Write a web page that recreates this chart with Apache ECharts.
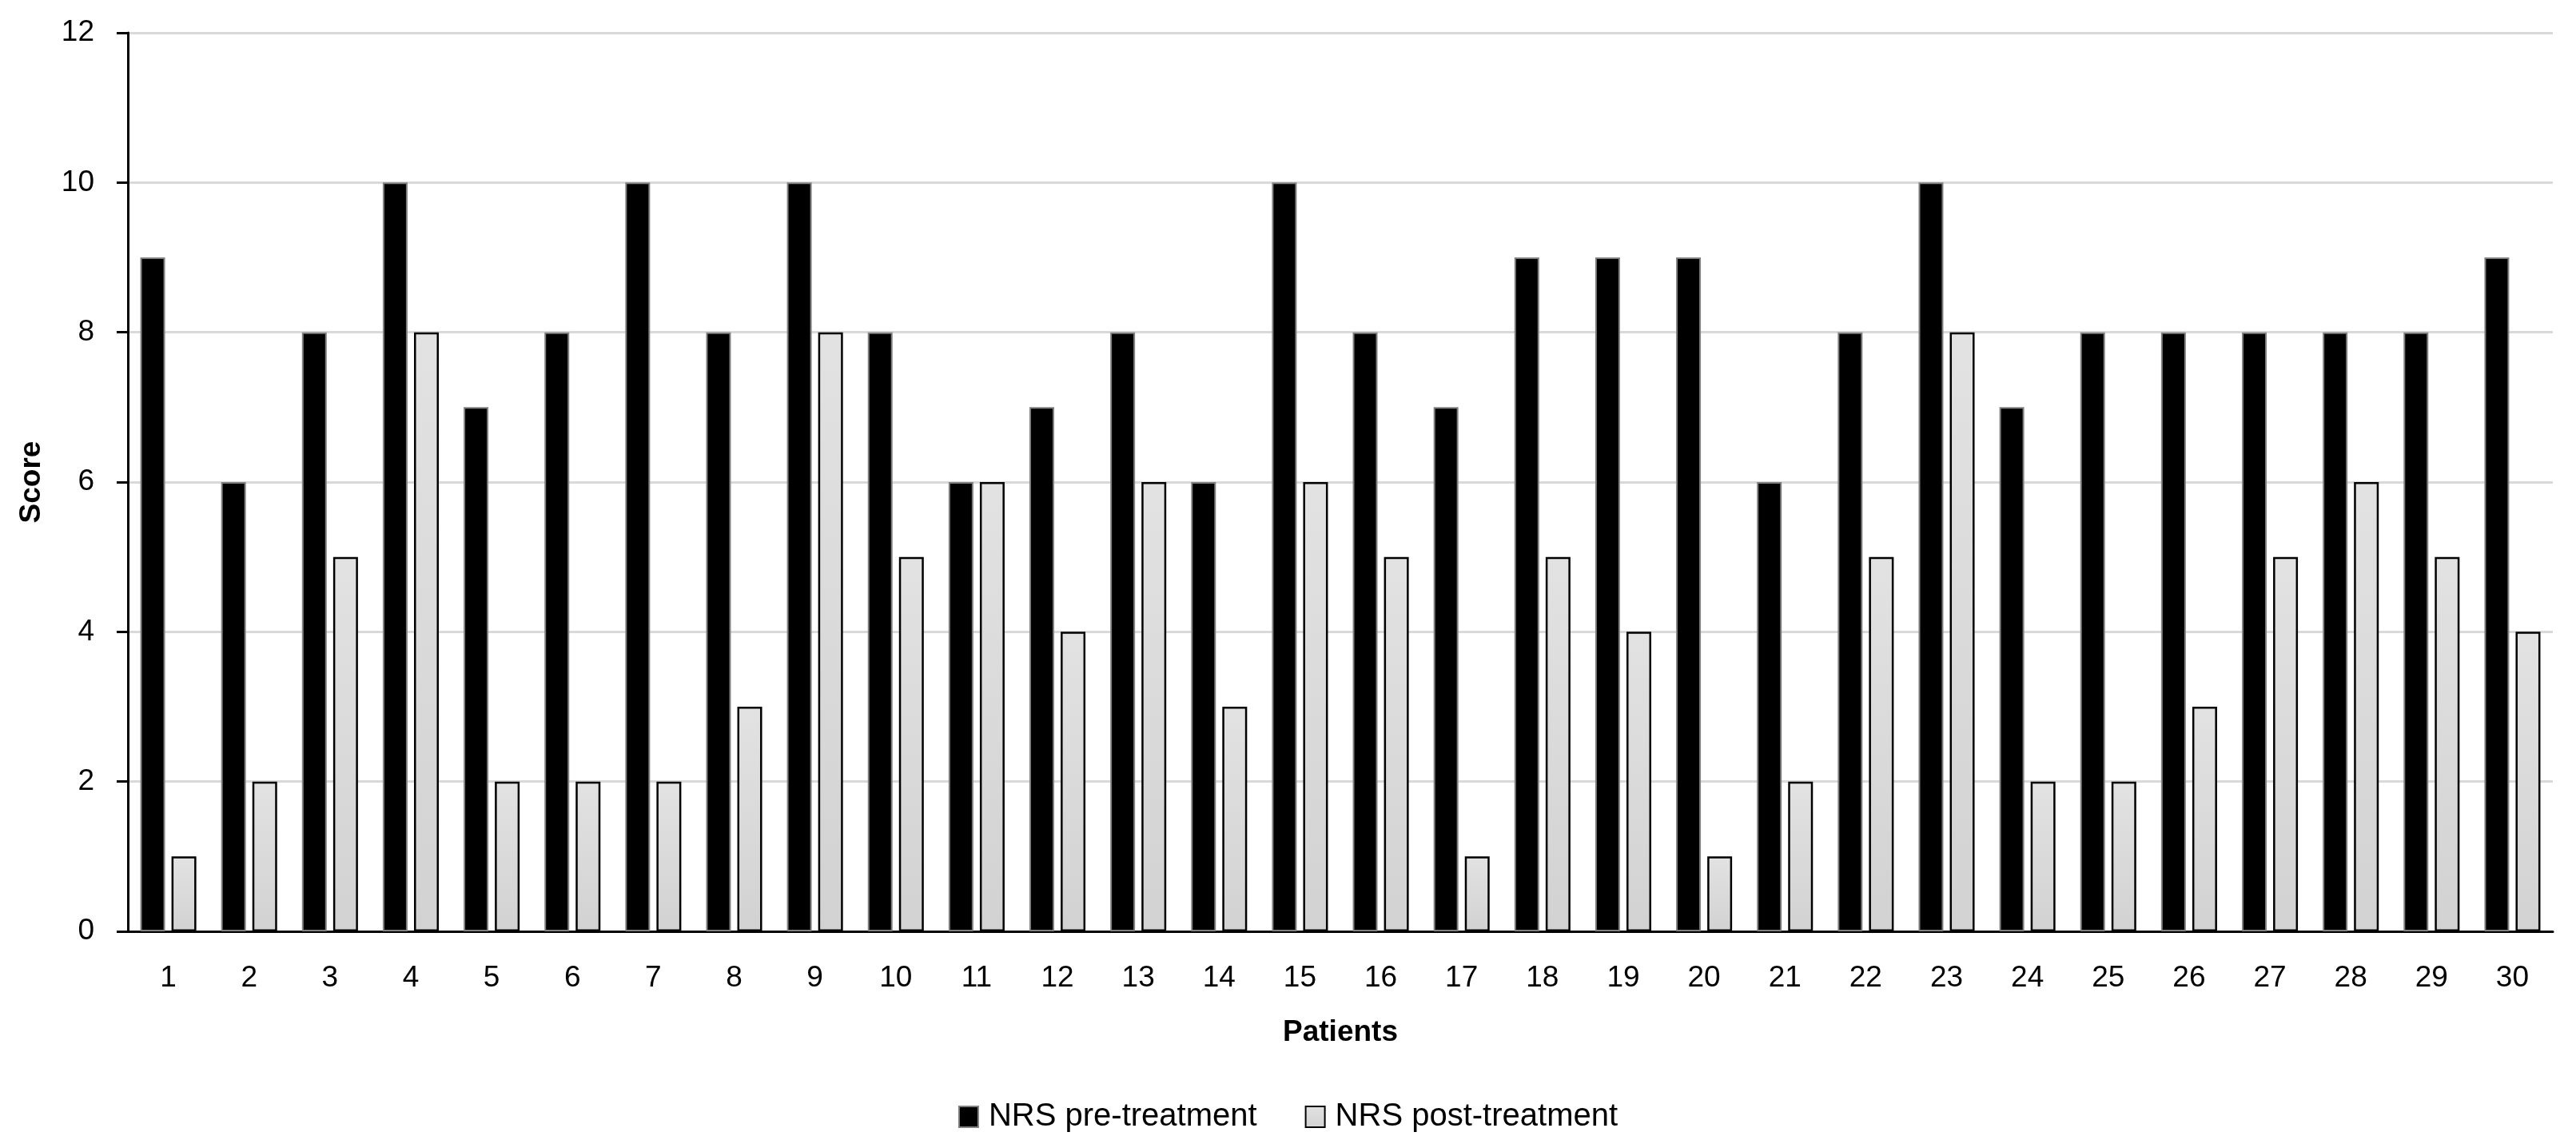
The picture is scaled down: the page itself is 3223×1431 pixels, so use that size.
<!DOCTYPE html>
<html>
<head>
<meta charset="utf-8">
<script src="https://cdn.jsdelivr.net/npm/echarts@6/dist/echarts.min.js"></script>
<style>html,body{margin:0;padding:0;background:#fff;}#c{width:3223px;height:1431px;}</style>
</head>
<body>
<div id="c"></div>
<script>
const patients = ['1','2','3','4','5','6','7','8','9','10','11','12','13','14','15','16','17','18','19','20','21','22','23','24','25','26','27','28','29','30'];
const nrsPre  = [9,6,8,10,7,8,10,8,10,8,6,7,8,6,10,8,7,9,9,9,6,8,10,7,8,8,8,8,8,9];
const nrsPost = [1,2,5,8,2,2,2,3,8,5,6,4,6,3,6,5,1,5,4,1,2,5,8,2,2,3,5,6,5,4];
const seriesNames = ['NRS pre-treatment','NRS post-treatment'];

const FONT = '"Liberation Sans", Arial, sans-serif';
const chart = echarts.init(document.getElementById('c'), null, {renderer:'canvas'});
chart.setOption({
  animation:false,
  backgroundColor:'#fff',
  grid:{left:160,right:29,top:41,bottom:266,containLabel:false},
  legend:{
    data:seriesNames, left:'center', top:1372, icon:'rect',
    itemWidth:24, itemHeight:26, itemGap:60,
    textStyle:{fontFamily:FONT,fontSize:40,color:'#000',padding:[0,0,0,8]}
  },
  xAxis:{
    type:'category', data:patients,
    name:'Patients', nameLocation:'middle', nameGap:108,
    nameTextStyle:{fontFamily:FONT,fontSize:37,fontWeight:'bold',color:'#000'},
    axisLine:{lineStyle:{color:'#000',width:3}},
    axisTick:{show:false},
    axisLabel:{fontFamily:FONT,fontSize:37,color:'#000',margin:40,interval:0}
  },
  yAxis:{
    type:'value', min:0, max:12, interval:2,
    name:'Score', nameLocation:'middle', nameGap:102,
    nameTextStyle:{fontFamily:FONT,fontSize:37,fontWeight:'bold',color:'#000'},
    axisLine:{show:true,lineStyle:{color:'#000',width:3}},
    axisTick:{show:true,length:14,lineStyle:{color:'#000',width:3}},
    axisLabel:{fontFamily:FONT,fontSize:37,color:'#000',margin:42},
    splitLine:{lineStyle:{color:'#d9d9d9',width:3}}
  },
  series:[
    {name:seriesNames[0], type:'bar', data:nrsPre, barWidth:31, barGap:'26%',
     itemStyle:{color:'#000',borderColor:'#808080',borderWidth:2}},
    {name:seriesNames[1], type:'bar', data:nrsPost, barWidth:31,
     itemStyle:{color:new echarts.graphic.LinearGradient(0,0,0,1,[{offset:0,color:'#e2e2e2'},{offset:1,color:'#d2d2d2'}]),borderColor:'#000',borderWidth:2.5}}
  ]
});
</script>
</body>
</html>
